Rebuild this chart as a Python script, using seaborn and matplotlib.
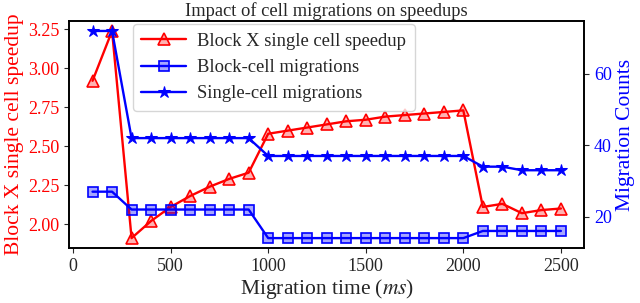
import pandas as pd
import seaborn as sns
import matplotlib.pyplot as plt

# -------------------- DATOS --------------------
migration_time = [100, 200, 300, 400, 500, 600, 700, 800, 900, 1000, 1100, 1200, 1300,
                  1400, 1500, 1600, 1700, 1800, 1900, 2000, 2100, 2200, 2300, 2400, 2500]
speedup = [2.92, 3.24, 1.91, 2.02, 2.11, 2.18, 2.24, 2.29, 2.33, 2.58, 2.60, 2.62, 2.64,
           2.66, 2.67, 2.69, 2.70, 2.71, 2.72, 2.73, 2.11, 2.13, 2.07, 2.09, 2.10]
block_migrations = [27, 27, 22, 22, 22, 22, 22, 22, 22, 14, 14, 14, 14,
                    14, 14, 14, 14, 14, 14, 14, 16, 16, 16, 16, 16]
single_migrations = [72, 72, 42, 42, 42, 42, 42, 42, 42, 37, 37, 37, 37,
                     37, 37, 37, 37, 37, 37, 37, 34, 34, 33, 33, 33]

df = pd.DataFrame({
    "t": migration_time,
    "speedup": speedup,
    "block": block_migrations,
    "single": single_migrations,
})

sns.set_style("ticks")
plt.rcParams["font.family"] = ["Liberation Serif", "DejaVu Serif"]
plt.rcParams["mathtext.fontset"] = "stix"

fig, ax = plt.subplots(figsize=(6.4, 3.03), dpi=100)
ax2 = ax.twinx()

sns.lineplot(data=df, x="t", y="speedup", ax=ax, color="red", lw=1.7,
             marker="^", markersize=8, mfc=(1, 0, 0, 0.3), mec="red", mew=1.2,
             label="Block X single cell speedup", legend=False)
sns.lineplot(data=df, x="t", y="block", ax=ax2, color="blue", lw=1.7,
             marker="s", markersize=7, mfc=(0, 0, 1, 0.35), mec="blue", mew=1.2,
             label="Block-cell migrations", legend=False)
sns.lineplot(data=df, x="t", y="single", ax=ax2, color="blue", lw=1.7,
             marker="*", markersize=9, mfc="blue", mec="blue",
             label="Single-cell migrations", legend=False)

ax.set_title("Impact of cell migrations on speedups", fontsize=13.3, pad=3)
ax.set_xlabel("Migration time ($\\it{ms}$)", fontsize=15.5, labelpad=1)
ax.set_ylabel("Block X single cell speedup", fontsize=15.5, color="red", labelpad=3)
ax2.set_ylabel("Migration Counts", fontsize=15.5, color="blue", labelpad=3)

ax.set_xticks([0, 500, 1000, 1500, 2000, 2500])
ax.set_yticks([2.00, 2.25, 2.50, 2.75, 3.00, 3.25])
ax.set_yticklabels(["2.00", "2.25", "2.50", "2.75", "3.00", "3.25"])
ax2.set_yticks([20, 40, 60])
ax.tick_params(axis="x", labelsize=13)
ax.tick_params(axis="y", labelsize=13, labelcolor="red")
ax2.tick_params(axis="y", labelsize=13, labelcolor="blue")

for a in (ax, ax2):
    for s in a.spines.values():
        s.set_visible(True)
        s.set_color("black")
        s.set_linewidth(1.2)

h1, l1 = ax.get_legend_handles_labels()
h2, l2 = ax2.get_legend_handles_labels()
ax2.legend(h1 + h2, l1 + l2, loc="upper left", bbox_to_anchor=(0.117, 1.0),
           fontsize=13.4, frameon=True, handlelength=2.4, borderpad=0.45,
           labelspacing=0.5, borderaxespad=0.2, handletextpad=0.6)

fig.subplots_adjust(left=0.108, right=0.913, top=0.932, bottom=0.18)
fig.savefig("out.png", dpi=100)
plt.close()
